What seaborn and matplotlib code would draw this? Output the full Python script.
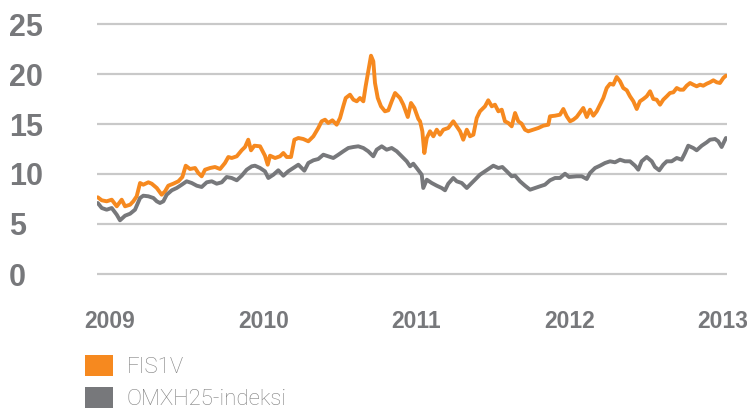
import matplotlib
matplotlib.use("Agg")
import matplotlib.pyplot as plt
from matplotlib.patches import Patch
import seaborn as sns
import pandas as pd

# ---------------- data ----------------
fis_years = [2008.920, 2008.946, 2008.978, 2009.011, 2009.044, 2009.076, 2009.098, 2009.131,
             2009.152, 2009.174, 2009.196, 2009.217, 2009.250, 2009.272, 2009.305, 2009.337,
             2009.359, 2009.380, 2009.413, 2009.446, 2009.472, 2009.494, 2009.522, 2009.555,
             2009.576, 2009.598, 2009.620, 2009.653, 2009.685, 2009.718, 2009.750, 2009.772,
             2009.794, 2009.827, 2009.859, 2009.881, 2009.902, 2009.920, 2009.942, 2009.979,
             2010.011, 2010.029, 2010.044, 2010.077, 2010.109, 2010.131, 2010.153, 2010.181,
             2010.203, 2010.229, 2010.261, 2010.294, 2010.327, 2010.359, 2010.381, 2010.403,
             2010.424, 2010.451, 2010.479, 2010.501, 2010.522, 2010.538, 2010.566, 2010.588,
             2010.610, 2010.631, 2010.653, 2010.668, 2010.685, 2010.703, 2010.718, 2010.729,
             2010.747, 2010.768, 2010.794, 2010.816, 2010.838, 2010.860, 2010.892, 2010.914,
             2010.943, 2010.964, 2010.986, 2011.012, 2011.023, 2011.038, 2011.051, 2011.067,
             2011.088, 2011.110, 2011.132, 2011.153, 2011.175, 2011.207, 2011.240, 2011.262,
             2011.284, 2011.305, 2011.328, 2011.349, 2011.371, 2011.393, 2011.414, 2011.447,
             2011.468, 2011.491, 2011.512, 2011.534, 2011.556, 2011.577, 2011.599, 2011.621,
             2011.643, 2011.664, 2011.686, 2011.708, 2011.729, 2011.762, 2011.795, 2011.827,
             2011.860, 2011.871, 2011.904, 2011.936, 2011.958, 2011.980, 2012.002, 2012.023,
             2012.045, 2012.067, 2012.088, 2012.111, 2012.132, 2012.154, 2012.176, 2012.197,
             2012.219, 2012.241, 2012.263, 2012.284, 2012.306, 2012.328, 2012.349, 2012.372,
             2012.393, 2012.415, 2012.437, 2012.458, 2012.480, 2012.502, 2012.524, 2012.545,
             2012.567, 2012.589, 2012.610, 2012.633, 2012.654, 2012.676, 2012.698, 2012.719,
             2012.741, 2012.763, 2012.785, 2012.806, 2012.828, 2012.850, 2012.871, 2012.894,
             2012.915, 2012.937, 2012.959, 2012.980, 2013.002, 2013.019]
fis_values = [7.67, 7.37, 7.27, 7.43, 6.77, 7.43, 6.77, 6.93,
              7.27, 7.77, 9.10, 8.93, 9.17, 9.03, 8.60, 7.93,
              8.27, 8.83, 9.03, 9.27, 9.70, 10.83, 10.50, 10.60,
              10.10, 9.77, 10.43, 10.60, 10.70, 10.50, 11.10, 11.70,
              11.60, 11.77, 12.37, 12.70, 13.43, 12.37, 12.83, 12.77,
              11.83, 10.93, 11.83, 11.60, 11.77, 12.10, 11.70, 11.70,
              13.43, 13.60, 13.50, 13.27, 13.77, 14.60, 15.27, 15.43,
              15.10, 15.37, 14.93, 15.60, 16.77, 17.60, 17.93, 17.43,
              17.27, 17.60, 17.27, 18.77, 20.27, 21.83, 21.27, 19.10,
              17.60, 16.77, 16.27, 16.37, 17.27, 18.10, 17.60, 16.93,
              15.70, 17.10, 16.60, 15.50, 15.27, 14.27, 12.10, 13.60,
              14.27, 13.77, 14.43, 13.93, 14.43, 14.60, 15.27, 14.77,
              14.27, 13.43, 14.43, 13.77, 13.93, 15.60, 16.27, 16.77,
              17.37, 16.77, 16.93, 16.27, 16.43, 15.27, 15.10, 14.77,
              16.10, 15.27, 15.03, 14.43, 14.27, 14.43, 14.60, 14.83,
              14.93, 15.77, 15.83, 15.93, 16.50, 15.77, 15.27, 15.43,
              15.70, 16.17, 16.60, 15.70, 16.43, 15.83, 16.27, 16.93,
              17.60, 18.60, 19.03, 18.93, 19.70, 19.27, 18.60, 18.37,
              17.77, 17.27, 16.50, 17.27, 17.50, 17.77, 18.27, 17.50,
              17.43, 16.93, 17.43, 17.77, 18.10, 18.17, 18.60, 18.43,
              18.43, 18.83, 19.10, 18.93, 18.77, 18.93, 18.83, 19.03,
              19.17, 19.37, 19.17, 19.10, 19.60, 19.83]

omx_years = [2008.920, 2008.946, 2008.978, 2009.011, 2009.044, 2009.065, 2009.098, 2009.131,
             2009.163, 2009.196, 2009.217, 2009.250, 2009.283, 2009.305, 2009.326, 2009.348,
             2009.370, 2009.403, 2009.435, 2009.468, 2009.500, 2009.533, 2009.566, 2009.598,
             2009.631, 2009.664, 2009.696, 2009.729, 2009.761, 2009.794, 2009.827, 2009.859,
             2009.892, 2009.925, 2009.946, 2009.979, 2010.011, 2010.033, 2010.066, 2010.098,
             2010.131, 2010.163, 2010.196, 2010.229, 2010.268, 2010.294, 2010.327, 2010.359,
             2010.392, 2010.424, 2010.457, 2010.490, 2010.522, 2010.555, 2010.588, 2010.620,
             2010.653, 2010.685, 2010.718, 2010.740, 2010.773, 2010.805, 2010.838, 2010.871,
             2010.903, 2010.936, 2010.958, 2010.979, 2011.001, 2011.034, 2011.044, 2011.067,
             2011.099, 2011.132, 2011.164, 2011.186, 2011.207, 2011.240, 2011.262, 2011.295,
             2011.328, 2011.349, 2011.382, 2011.414, 2011.447, 2011.480, 2011.501, 2011.534,
             2011.560, 2011.589, 2011.621, 2011.643, 2011.675, 2011.708, 2011.741, 2011.773,
             2011.806, 2011.838, 2011.871, 2011.904, 2011.936, 2011.969, 2011.995, 2012.045,
             2012.078, 2012.111, 2012.132, 2012.165, 2012.197, 2012.230, 2012.263, 2012.295,
             2012.328, 2012.360, 2012.393, 2012.426, 2012.447, 2012.469, 2012.502, 2012.535,
             2012.556, 2012.584, 2012.610, 2012.633, 2012.665, 2012.698, 2012.730, 2012.752,
             2012.773, 2012.806, 2012.828, 2012.861, 2012.894, 2012.915, 2012.948, 2012.969,
             2012.991, 2013.006, 2013.019]
omx_values = [7.10, 6.60, 6.43, 6.60, 5.93, 5.37, 5.83, 6.03,
              6.43, 7.60, 7.83, 7.77, 7.60, 7.27, 7.10, 7.27,
              7.93, 8.37, 8.60, 8.93, 9.27, 9.10, 8.83, 8.70,
              9.17, 9.27, 9.03, 9.17, 9.70, 9.60, 9.37, 9.83,
              10.43, 10.77, 10.83, 10.60, 10.27, 9.60, 9.93, 10.37,
              9.83, 10.27, 10.60, 10.93, 10.33, 11.10, 11.37, 11.50,
              11.93, 11.77, 11.60, 11.93, 12.27, 12.60, 12.70, 12.77,
              12.60, 12.27, 11.77, 12.43, 12.77, 12.43, 12.60, 12.27,
              11.77, 11.27, 10.77, 11.03, 10.60, 9.93, 8.60, 9.43,
              9.10, 8.83, 8.60, 8.37, 9.03, 9.60, 9.27, 9.10,
              8.60, 8.93, 9.43, 9.93, 10.27, 10.60, 10.83, 10.60,
              10.70, 10.27, 9.77, 9.83, 9.27, 8.83, 8.43, 8.60,
              8.77, 8.93, 9.37, 9.60, 9.60, 10.03, 9.70, 9.77,
              9.77, 9.50, 10.10, 10.60, 10.83, 11.10, 11.27, 11.17,
              11.43, 11.27, 11.27, 10.83, 10.43, 11.27, 11.70, 11.27,
              10.70, 10.37, 10.93, 11.27, 11.27, 11.60, 11.43, 12.10,
              12.83, 12.60, 12.37, 12.83, 13.17, 13.43, 13.50, 13.27,
              12.70, 13.17, 13.60]

series_names = ["FIS1V", "OMXH25-indeksi"]
year_ticks = [2009, 2010, 2011, 2012, 2013]
year_labels = ["2009", "2010", "2011", "2012", "2013"]
value_ticks = [0, 5, 10, 15, 20, 25]

# ---------------- style ----------------
ORANGE = "#f6891f"
GREY = "#77787b"
GRID = "#c9c9c9"
TEXT = "#77787b"

sns.set_theme(style="white")
plt.rcParams["font.family"] = ["Liberation Sans", "DejaVu Sans"]

fig = plt.figure(figsize=(7.47, 4.13), dpi=100)
W, H = 747, 413
ax = fig.add_axes([97 / W, 1 - 279 / H, 630 / W, 260 / H])

fis_df = pd.DataFrame({"year": fis_years, "value": fis_values})
omx_df = pd.DataFrame({"year": omx_years, "value": omx_values})

sns.lineplot(data=fis_df, x="year", y="value", ax=ax, color=ORANGE, lw=2.8,
             sort=False, estimator=None, zorder=3)
sns.lineplot(data=omx_df, x="year", y="value", ax=ax, color=GREY, lw=2.8,
             sort=False, estimator=None, zorder=3)

ax.set_xlim(2008.915, 2013.026)
ax.set_ylim(-0.5, 25.5)
ax.set_xlabel("")
ax.set_ylabel("")

ax.set_yticks(value_ticks)
ax.set_yticklabels([str(v) for v in value_ticks])
ax.set_xticks(year_ticks)
ax.set_xticklabels(year_labels)

ax.yaxis.grid(True, color=GRID, lw=1.6, zorder=0)
ax.xaxis.grid(False)
ax.set_axisbelow(True)
for s in ax.spines.values():
    s.set_visible(False)

ax.tick_params(axis="y", length=0, pad=63.5, labelsize=22, labelcolor=TEXT)
ax.tick_params(axis="x", length=0, pad=22, labelsize=16.5, labelcolor=TEXT)
for lbl in ax.get_yticklabels():
    lbl.set_horizontalalignment("left")
    lbl.set_fontweight("bold")
for lbl in ax.get_xticklabels():
    lbl.set_fontweight("bold")

handles = [Patch(facecolor=ORANGE, edgecolor="none"),
           Patch(facecolor=GREY, edgecolor="none")]
leg = fig.legend(handles, series_names, loc="upper left",
                 bbox_to_anchor=(85 / W, 1 - 355 / H), bbox_transform=fig.transFigure,
                 frameon=False, borderpad=0, borderaxespad=0,
                 handlelength=1.27, handleheight=1.1, handletextpad=0.6,
                 labelspacing=0.4,
                 prop={"family": ["Roboto", "DejaVu Sans"], "weight": "light", "size": 16})
for t in leg.get_texts():
    t.set_color("#808080")

fig.savefig("out.png", dpi=100)
